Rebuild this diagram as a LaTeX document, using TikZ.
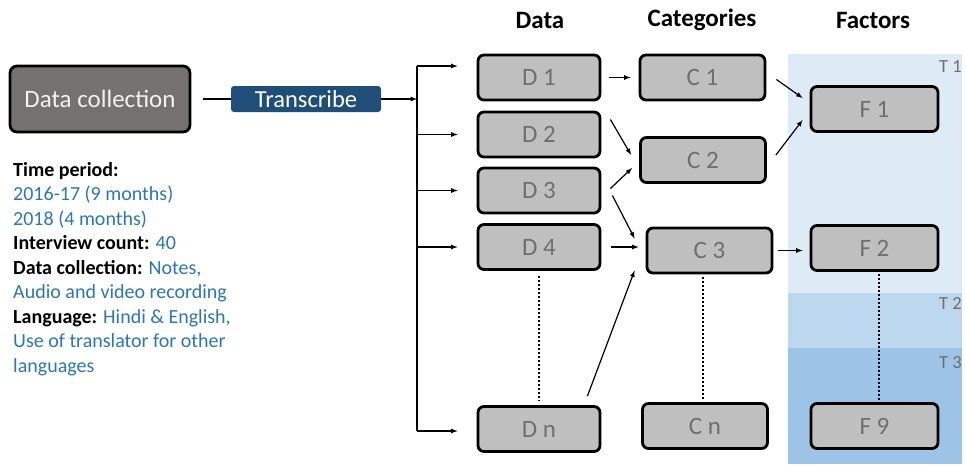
\documentclass[tikz,border=0pt]{standalone}
\usepackage{fontspec}
\setmainfont{Carlito}
\usetikzlibrary{arrows,positioning,calc}
\definecolor{collgray}{HTML}{767171}
\definecolor{transblue}{HTML}{1F4E79}
\definecolor{boxgray}{HTML}{BFBFBF}
\definecolor{labgray}{HTML}{6F6F6F}
\definecolor{infoblue}{HTML}{2E75B6}
\definecolor{tone}{HTML}{DEEBF7}
\definecolor{ttwo}{HTML}{BDD7EE}
\definecolor{tthree}{HTML}{9DC3E6}
\begin{document}
\begin{tikzpicture}[x=1pt,y=-1pt] % pixel grid, y grows downwards
\tikzset{every node/.style={inner sep=0pt}}
\tikzset{stagebox/.style={draw, line width=2.8pt, rounded corners=6pt, fill=boxgray, text=labgray, minimum height=45pt, font=\fontsize{25}{25}\selectfont}}
\tikzset{dbox/.style={stagebox, minimum width=122pt}, cbox/.style={stagebox, minimum width=125pt}, fbox/.style={stagebox, minimum width=127pt}}
\tikzset{arr/.style={-latex, line width=1.2pt}, line/.style={line width=1.2pt}}
\tikzset{dots/.style={line width=1.6pt, dash pattern=on 2pt off 2pt}}
\tikzset{head/.style={font=\bfseries\fontsize{25}{25}\selectfont}}
\tikzset{tlabel/.style={text=labgray, font=\fontsize{18.5}{18.5}\selectfont, anchor=north east}}
\useasboundingbox (0,0) rectangle (966,464);
% time bands
\fill[tone] (788,54) rectangle (962,293);
\fill[ttwo] (788,293) rectangle (962,348);
\fill[tthree] (788,348) rectangle (962,464);
\node[tlabel] (T1) at (962,60) {T 1};
\node[tlabel] (T2) at (962,297) {T 2};
\node[tlabel] (T3) at (962,356) {T 3};
% headings
\node[head] (hD) at (540,20) {Data};
\node[head] (hC) at (702,20) {Categories};
\node[head] (hF) at (873,20) {Factors};
% collection and transcription
\node[draw, line width=2.8pt, rounded corners=7pt, fill=collgray, text=white!95!black, minimum width=180pt, minimum height=66pt, font=\fontsize{25}{25}\selectfont] (DC) at (100,99) {Data collection};
\node[fill=transblue, rounded corners=3pt, text=white, minimum width=150pt, minimum height=26pt, font=\fontsize{24.5}{24.5}\selectfont] (TR) at (306,99) {Transcribe};
\node[anchor=north west, align=left, font=\fontsize{20}{24.5}\selectfont] (info) at (13,162) {%
\textbf{Time period:}\\
\textcolor{infoblue}{2016-17 (9 months)}\\
\textcolor{infoblue}{2018 (4 months)}\\
\textbf{Interview count:} \textcolor{infoblue}{40}\\
\textbf{Data collection:} \textcolor{infoblue}{Notes,}\\
\textcolor{infoblue}{Audio and video recording}\\
\textbf{Language:} \textcolor{infoblue}{Hindi \& English,}\\
\textcolor{infoblue}{Use of translator for other}\\
\textcolor{infoblue}{languages}};
% data
\node[dbox] (D1) at (539,77.5) {D 1};
\node[dbox] (D2) at (539,134.5) {D 2};
\node[dbox] (D3) at (539,190.5) {D 3};
\node[dbox] (D4) at (539,247) {D 4};
\node[dbox] (Dn) at (539,429) {D n};
% categories
\node[cbox] (C1) at (702.5,77.5) {C 1};
\node[cbox] (C2) at (703,160) {C 2};
\node[cbox] (C3) at (709.5,250.5) {C 3};
\node[cbox] (Cn) at (705,426) {C n};
% factors
\node[fbox] (F1) at (874.5,109) {F 1};
\node[fbox] (F2) at (874.5,248) {F 2};
\node[fbox] (F9) at (874.5,426) {F 9};
% feed into the data column
\coordinate (split) at (417,99);
\coordinate (busT) at (417,66);
\coordinate (busB) at (417,431);
\draw[line, shorten <=12pt] (DC) -- (TR);
\draw[arr] (TR) -- (split);
\draw[line] (busT) -- (busB);
\draw[arr, shorten >=19pt] (busT) -- (busT -| D1.west);
\draw[arr, shorten >=19pt] (split |- D2.west) -- (D2.west);
\draw[arr, shorten >=19pt] (split |- D3.west) -- (D3.west);
\draw[arr, shorten >=19pt] (split |- D4.west) -- (D4.west);
\draw[arr] (busB) -- ([xshift=-19pt]busB -| Dn.west);
% data to categories
\draw[arr, shorten <=8pt, shorten >=8pt] (D1.east) -- (C1.west);
\draw[arr] ([shift={(9,-15)}]D2.east) -- ([shift={(-8,-5)}]C2.west);
\draw[arr] ([shift={(9,-2)}]D3.east) -- ([shift={(-7,8)}]C2.west);
\draw[arr] ([shift={(11,5)}]D3.east) -- ([shift={(-11,-12)}]C3.west);
\draw[arr, shorten <=10pt, shorten >=7pt] (D4.east) -- (D4.east -| C3.west);
\draw[arr] ([shift={(-14,-9)}]Dn.north east) -- ([shift={(-11,20)}]C3.west);
% categories to factors
\draw[arr] ([shift={(10,2)}]C1.east) -- ([shift={(-7,-11)}]F1.west);
\draw[arr] ([shift={(9,-5)}]C2.east) -- ([shift={(-7,11)}]F1.west);
\draw[arr, shorten <=5pt, shorten >=7pt] (C3.east) -- (C3.east -| F2.west);
% continuation
\draw[dots, shorten <=5pt, shorten >=4pt] (D4.south) -- (Dn.north);
\draw[dots, shorten <=3pt, shorten >=2pt] ([xshift=-6.5pt]C3.south) -- ([xshift=-2pt]Cn.north);
\draw[dots, shorten <=2pt, shorten >=2pt] ([xshift=4.5pt]F2.south) -- ([xshift=4.5pt]F9.north);
\end{tikzpicture}
\end{document}
